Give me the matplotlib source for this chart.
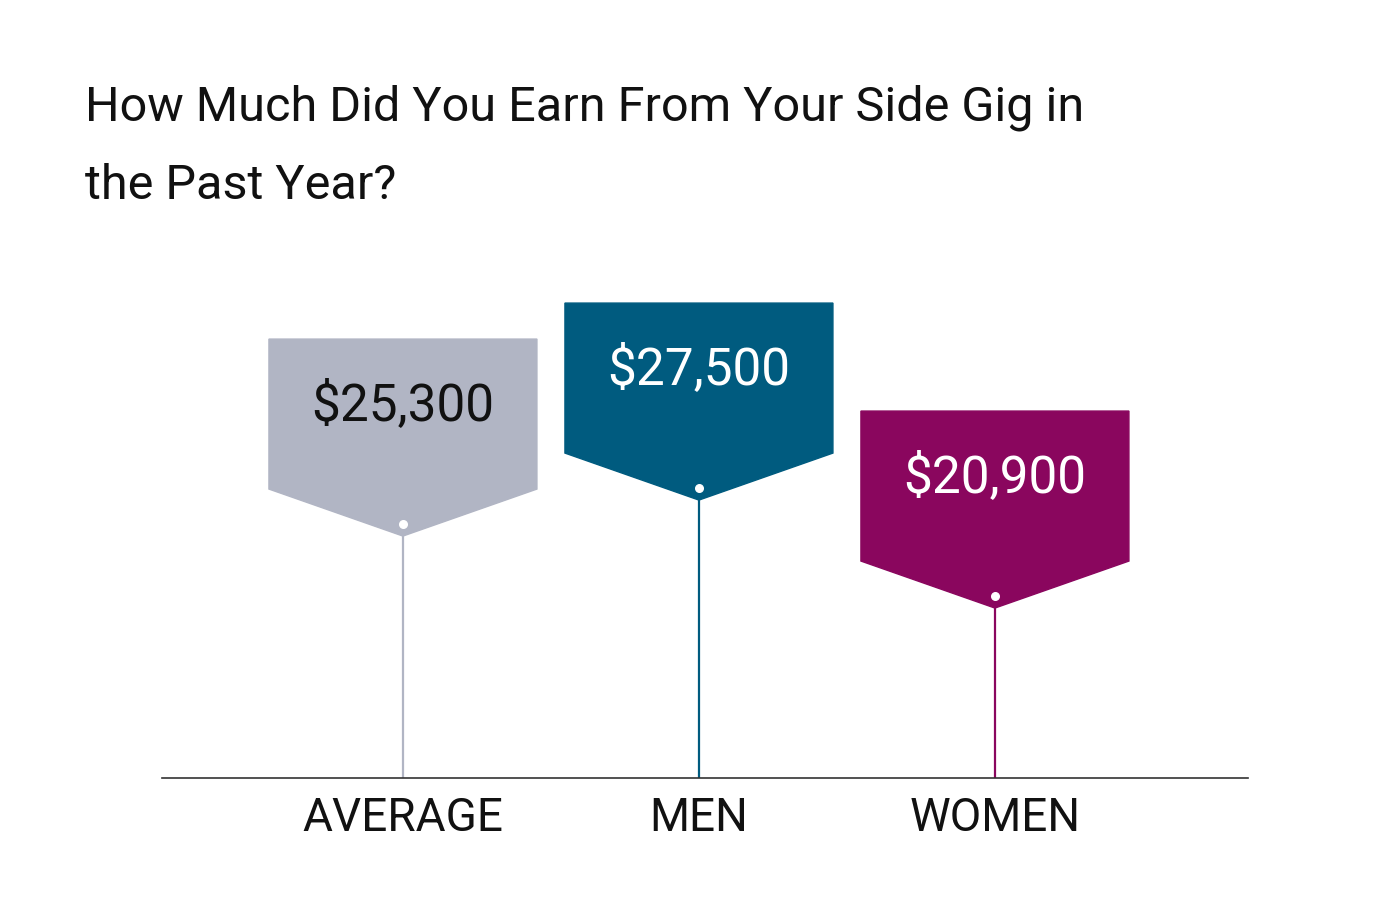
import matplotlib.pyplot as plt
from matplotlib.patches import Polygon

plt.rcParams['font.family'] = ['Roboto', 'DejaVu Sans']

categories = ['AVERAGE', 'MEN', 'WOMEN']
values = [25300, 27500, 20900]
labels = ['$25,300', '$27,500', '$20,900']
colors = ['#b1b5c4', '#005b7f', '#8a065e']
text_colors = ['#111111', 'white', 'white']

fig = plt.figure(figsize=(13.8, 9.06), dpi=100)
ax = fig.add_axes([162 / 1380, 128 / 906, 1086 / 1380, 500 / 906])
ymin, ymax = 9780, 40340
ax.set_xlim(-0.814, 2.855)
ax.set_ylim(ymin, ymax)
ax.axis('off')

# pixel -> data helpers
py = (ymax - ymin) / 500.0
px = 1 / 296.0

for i, (v, c) in enumerate(zip(values, colors)):
    ax.plot([i, i], [ymin, v], color=c, lw=1.6, zorder=1)
    tip = v - 12 * py
    hw = 134 * px
    verts = [(i - hw, tip + 197 * py), (i + hw, tip + 197 * py),
             (i + hw, tip + 47 * py), (i, tip), (i - hw, tip + 47 * py)]
    ax.add_patch(Polygon(verts, closed=True, color=c, zorder=2))
    ax.scatter([i], [v], s=30, color='white', zorder=3)
    ax.text(i, v + 118 * py, labels[i], ha='center', va='center',
            fontsize=37, color=text_colors[i], zorder=4)
    ax.text(i, ymin - 40 * py, categories[i], ha='center', va='center',
            fontsize=33, color='#111111')

ax.plot([-0.814, 2.855], [ymin, ymin], color='#333333', lw=1.2, clip_on=False, zorder=5)

fig.text(85 / 1380, 1 - 108 / 906, 'How Much Did You Earn From Your Side Gig in',
         fontsize=35, va='center', ha='left', color='#111111')
fig.text(85 / 1380, 1 - 186 / 906, 'the Past Year?',
         fontsize=35, va='center', ha='left', color='#111111')

fig.savefig('out.png', dpi=100, facecolor='white')
